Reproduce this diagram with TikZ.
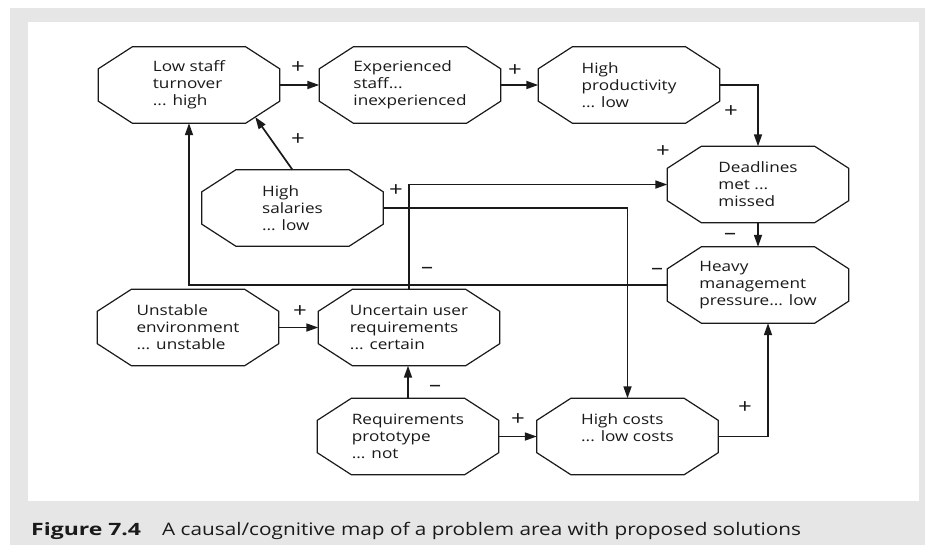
\documentclass[tikz,border=0pt]{standalone}
\usepackage{fontspec}
\setmainfont{Open Sans}[FakeStretch=1.2, BoldFeatures={FakeStretch=1.35}]
\usetikzlibrary{arrows.meta,calc}
\definecolor{panelgray}{HTML}{E6E6E6}
\definecolor{ink}{HTML}{1A1A1A}
\tikzset{
  octnode/.style={rectangle, minimum width=181pt, minimum height=76pt,
    inner sep=0pt, align=left, font=\fontsize{14.3}{17}\selectfont, text=ink},
  octline/.style={draw=ink, line width=1.2pt, line join=miter},
  link/.style={draw=ink, line width=1.7pt, -{Triangle[length=12pt,width=8pt]}},
  sign/.style={font=\fontsize{20}{20}\selectfont, text=ink, inner sep=0pt},
}
% octagon outline around a rectangular node
\newcommand\octagon[1]{%
  \draw[octline] ([xshift=34pt]#1.north west) -- ([xshift=-34pt]#1.north east)
    -- ([yshift=-22pt]#1.north east) -- ([yshift=22pt]#1.south east)
    -- ([xshift=-34pt]#1.south east) -- ([xshift=34pt]#1.south west)
    -- ([yshift=22pt]#1.south west) -- ([yshift=-22pt]#1.north west) -- cycle;}

\begin{document}
\begin{tikzpicture}[x=1pt,y=-1pt]
\useasboundingbox (0,0) rectangle (925,546);
\fill[white] (0,0) rectangle (925,546);
\fill[panelgray] (10,8) rectangle (925,545);
\fill[white] (28,22) rectangle (919,501);

% factors
\node[octnode] (lst) at (189,85)    {Low staff\\turnover\\... high};
\node[octnode] (exp) at (410,85)    {Experienced\\staff...\\inexperienced};
\node[octnode] (hp)  at (629,85)    {High\\productivity\\... low};
\node[octnode] (dl)  at (758,184.5) {Deadlines\\met ...\\missed};
\node[octnode] (hm)  at (758,285)   {Heavy\\management\\pressure... low};
\node[octnode] (hs)  at (292.5,208) {High\\salaries\\... low};
\node[octnode] (ue)  at (188,327.5) {Unstable\\environment\\... unstable};
\node[octnode] (ur)  at (409,327.5) {Uncertain user\\requirements\\... certain};
\node[octnode] (rp)  at (408,436.5) {Requirements\\prototype\\... not};
\node[octnode] (hc)  at (627.5,436.5) {High costs\\... low costs\\\mbox{}};

\foreach \n in {lst,exp,hp,dl,hm,hs,ue,ur,rp,hc} {\octagon{\n}}

% causal links
\coordinate (lstc) at ($([xshift=-34pt]lst.south east)!0.28!([yshift=22pt]lst.south east)$);
\draw[link] (lst.east) -- (exp.west);
\draw[link] (exp.west -| exp.east) -- (hp.west);
\draw[link] (hp.east) -| (dl.north);
\draw[link] (dl.south) -- (hm.north);
\draw[link] (hs.north) -- (lstc);
\draw[link] (hm.west) -| (lst.south);
\draw[link] (ur.north) |- (dl.west);
\draw[link] (hs.east) -| (hc.north);
\draw[link] (ue.east) -- (ur.west);
\draw[link] (rp.north) -- (rp.north |- ur.south);
\draw[link] (rp.east) -- (hc.west);
\draw[link] (hc.east) -| ([xshift=10pt]hm.south);

% link polarities
\node[sign] at (298,68)  {+};
\node[sign] at (515,71)  {+};
\node[sign] at (731,112) {+};
\node[sign] at (298,140) {+};
\node[sign] at (663,152) {+};
\node[sign] at (396,191) {+};
\node[sign] at (427,270) {\textendash};
\node[sign] at (730,236) {\textendash};
\node[sign] at (657,271) {\textendash};
\node[sign] at (300,312) {+};
\node[sign] at (435,388) {\textendash};
\node[sign] at (518,420) {+};
\node[sign] at (745,408) {+};

% caption
\node[anchor=base west, inner sep=0pt, font=\fontsize{17}{17}\selectfont\bfseries, text=ink] (fig) at (31,535) {Figure 7.4};
\node[anchor=base west, inner sep=0pt, font=\fontsize{17.3}{17}\selectfont, text=ink] (cap) at (162,535) {A causal/cognitive map of a problem area with proposed solutions};
\end{tikzpicture}
\end{document}
